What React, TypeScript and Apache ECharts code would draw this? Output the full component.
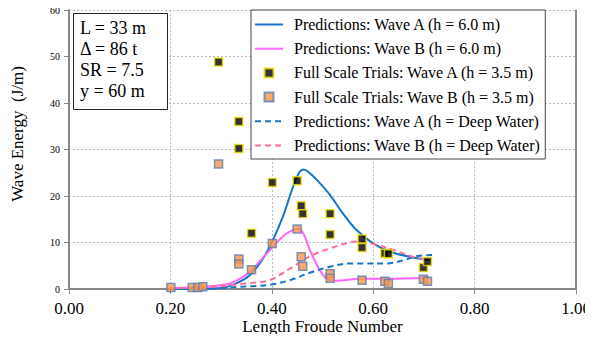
import React, { useEffect, useRef } from "react";
import * as echarts from "echarts";

const xTicks = [0, 0.2, 0.4, 0.6, 0.8, 1.0];
const seriesNames = [
  "Predictions: Wave A (h = 6.0 m)",
  "Predictions: Wave B (h = 6.0 m)",
  "Full Scale Trials: Wave A (h = 3.5 m)",
  "Full Scale Trials: Wave B (h = 3.5 m)",
  "Predictions: Wave A (h = Deep Water)",
  "Predictions: Wave B (h = Deep Water)",
];
const infoLines = ["L = 33 m", "Δ = 86 t", "SR = 7.5", "y = 60 m"];

const predA6 = [
  [0.2, 0], [0.25, 0.05], [0.3, 0.2], [0.33, 1.2], [0.357, 3.0], [0.383, 6.6], [0.40, 10.0],
  [0.423, 15.9], [0.442, 22.0], [0.455, 25.2], [0.463, 25.7], [0.474, 25.0],
  [0.492, 23.1], [0.515, 20.2], [0.538, 16.6], [0.567, 12.7], [0.60, 9.8],
  [0.633, 8.0], [0.673, 6.9], [0.712, 6.2],
];
const predB6 = [
  [0.2, 0.2], [0.25, 0.35], [0.311, 1.0], [0.34, 2.4], [0.357, 3.7], [0.37, 5.2], [0.40, 8.8],
  [0.423, 11.4], [0.442, 12.7], [0.452, 12.9], [0.462, 12.0], [0.475, 8.4],
  [0.491, 4.8], [0.507, 2.3], [0.525, 1.8], [0.578, 2.2], [0.63, 2.2], [0.71, 2.4],
];
const trialsA = [
  [0.295, 48.8], [0.335, 36.0], [0.335, 30.2], [0.360, 12.0], [0.401, 22.9],
  [0.450, 23.3], [0.458, 17.9], [0.461, 16.2], [0.515, 16.2], [0.515, 11.7],
  [0.578, 10.75], [0.578, 8.9], [0.623, 7.7], [0.630, 7.6], [0.699, 4.6], [0.707, 5.9],
];
const trialsB = [
  [0.201, 0.3], [0.243, 0.3], [0.254, 0.3], [0.264, 0.5], [0.295, 26.9],
  [0.335, 6.45], [0.335, 5.4], [0.360, 4.15], [0.401, 9.8], [0.450, 12.9],
  [0.458, 6.95], [0.461, 4.9], [0.515, 3.3], [0.515, 2.3], [0.578, 1.9],
  [0.623, 1.65], [0.630, 1.2], [0.699, 2.1], [0.707, 1.65],
];
const predADeep = [
  [0.2, 0], [0.25, 0.05], [0.3, 0.15], [0.337, 0.5], [0.36, 0.6], [0.396, 0.9],
  [0.436, 1.9], [0.475, 3.5], [0.515, 4.8], [0.554, 5.5], [0.58, 5.5], [0.626, 5.5],
  [0.66, 6.2], [0.687, 7.1], [0.716, 7.3],
];
const predBDeep = [
  [0.2, 0.2], [0.25, 0.3], [0.3, 0.6], [0.337, 1.07], [0.36, 1.3], [0.396, 1.9],
  [0.436, 4.4], [0.475, 7.0], [0.515, 8.75], [0.554, 10.0], [0.573, 10.2],
  [0.606, 9.5], [0.64, 8.4], [0.68, 6.9], [0.716, 6.2],
];

const FONT = "Liberation Serif";
const SQUARE = "path://M0,0 L10,0 L10,10 L0,10 Z";

export default function App() {
  const ref = useRef<HTMLDivElement>(null);
  useEffect(() => {
    const chart = echarts.init(ref.current!, undefined, { renderer: "svg" });
    const lineS = (name: string, data: number[][], color: string, dashed: boolean) => ({
      name,
      type: "line",
      data,
      smooth: 0.35,
      symbol: "none",
      lineStyle: { color, width: 2, type: dashed ? [6, 4] : "solid" },
      itemStyle: { color },
      z: 3,
    });
    chart.setOption({
      animation: false,
      backgroundColor: "#fff",
      textStyle: { fontFamily: FONT },
      grid: { left: 69, right: 17, top: 10, bottom: 53, containLabel: false, outerBoundsMode: "none" },
      xAxis: {
        type: "value",
        min: 0,
        max: 1,
        interval: 0.2,
        name: "Length Froude Number",
        nameLocation: "middle",
        nameGap: 29,
        nameMoveOverlap: false,
        nameTextStyle: { fontFamily: FONT, fontSize: 17, color: "#000", verticalAlign: "top" },
        axisLine: { lineStyle: { color: "#888", width: 2 } },
        axisTick: { show: true, length: 5, lineStyle: { color: "#888" } },
        axisLabel: {
          fontFamily: FONT,
          fontSize: 17,
          color: "#000",
          margin: 11,
          hideOverlap: false,
          formatter: (v: number) => (xTicks.includes(Math.round(v * 10) / 10) ? v.toFixed(2) : ""),
        },
        splitLine: { show: true, lineStyle: { color: "#bbb", type: [2, 2], width: 1 } },
      },
      yAxis: {
        type: "value",
        min: 0,
        max: 60,
        interval: 10,
        axisLine: { show: true, lineStyle: { color: "#888", width: 2 } },
        axisTick: { show: true, length: 5, lineStyle: { color: "#888" } },
        axisLabel: { fontFamily: FONT, fontSize: 10, color: "#000", margin: 9 },
        splitLine: { show: true, lineStyle: { color: "#bbb", type: [2, 2], width: 1 } },
      },
      legend: {
        left: 251,
        top: 10,
        orient: "vertical",
        backgroundColor: "#fff",
        borderColor: "#444",
        borderWidth: 1,
        borderRadius: 0,
        padding: [6, 4, 5, 3],
        itemWidth: 28,
        itemHeight: 9,
        itemGap: 7.2,
        textStyle: { fontFamily: FONT, fontSize: 16, lineHeight: 17, color: "#000", padding: [0, 0, 0, 6] },
        data: seriesNames.map((n, i) =>
          i === 2 || i === 3 ? { name: n, icon: SQUARE } : { name: n, itemStyle: { opacity: 0 } }
        ),
        z: 10,
      },
      graphic: [
        {
          type: "line",
          shape: { x1: 576, y1: 10, x2: 576, y2: 289 },
          style: { stroke: "#888", lineWidth: 2 },
          z: 5,
        },
        {
          type: "rect",
          left: 73,
          top: 13,
          shape: { width: 94, height: 96 },
          style: { fill: "#fff", stroke: "#222", lineWidth: 1 },
          z: 10,
        },
        ...infoLines.map((t, i) => ({
          type: "text",
          left: 80,
          top: 18.5 + i * 21.3,
          style: { text: t, font: `18px ${FONT}`, fill: "#000" },
          z: 11,
        })),
        {
          type: "text",
          x: 17,
          y: 134,
          rotation: Math.PI / 2,
          style: {
            text: "Wave Energy  (J/m)",
            font: `17px ${FONT}`,
            fill: "#000",
            align: "center",
            verticalAlign: "middle",
          },
          z: 11,
        },
      ],
      series: [
        lineS(seriesNames[0], predA6, "#1874c8", false),
        lineS(seriesNames[1], predB6, "#ff66ff", false),
        {
          name: seriesNames[2],
          type: "scatter",
          data: trialsA,
          symbol: "rect",
          symbolSize: 8,
          itemStyle: { color: "#000", borderColor: "#f0e000", borderWidth: 1.5 },
          z: 4,
        },
        {
          name: seriesNames[3],
          type: "scatter",
          data: trialsB,
          symbol: "rect",
          symbolSize: 8,
          itemStyle: { color: "#f79646", borderColor: "#5b80b6", borderWidth: 1.5 },
          z: 4,
        },
        lineS(seriesNames[4], predADeep, "#1874c8", true),
        lineS(seriesNames[5], predBDeep, "#ff6e9c", true),
      ],
    });
    return () => chart.dispose();
  }, []);
  return <div ref={ref} style={{ width: 593, height: 342, margin: -8 }} />;
}
